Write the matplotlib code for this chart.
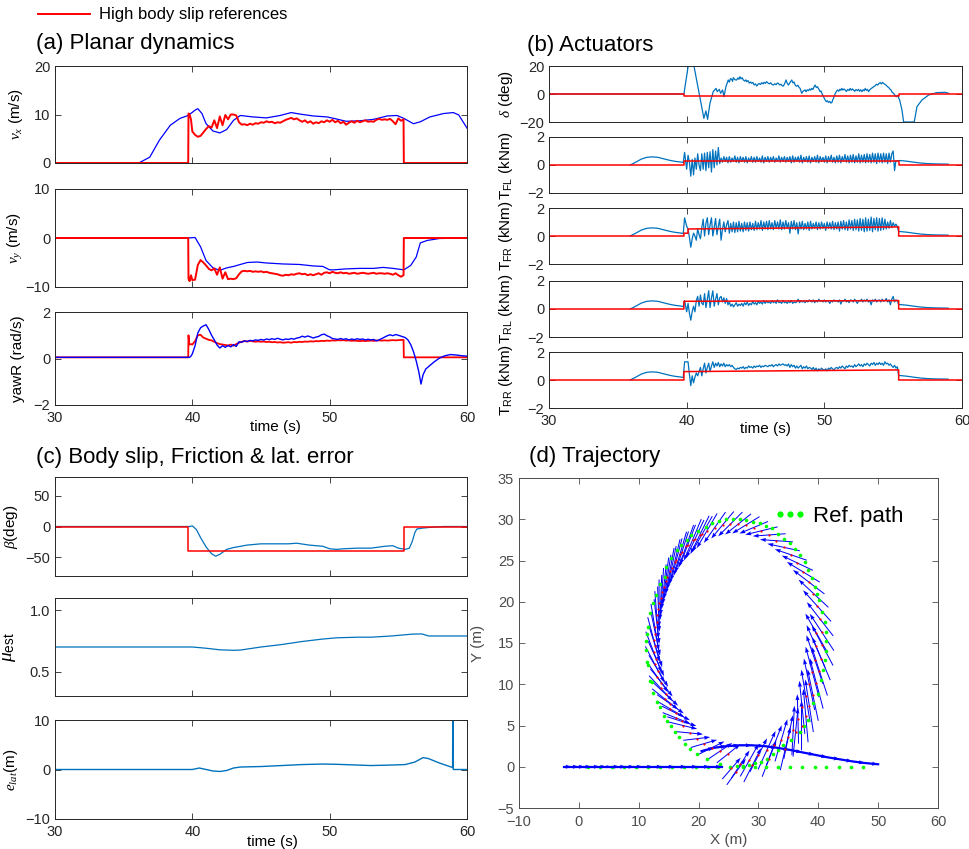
import numpy as np
import matplotlib
matplotlib.use("Agg")
import matplotlib.pyplot as plt
from matplotlib.lines import Line2D

plt.rcParams['font.family'] = ['Liberation Sans', 'DejaVu Sans']
plt.rcParams['mathtext.fontset'] = 'custom'
plt.rcParams['mathtext.rm'] = 'Liberation Sans'
plt.rcParams['mathtext.it'] = 'Liberation Serif:italic'
plt.rcParams['mathtext.bf'] = 'Liberation Sans:bold'

BLUE = '#0000FF'
MBLUE = '#0072BD'
RED = '#FF0000'
GREEN = '#00FF00'
INK = '#262626'

# ---------------------------------------------------------------- (a) planar dynamics
vx_t = [30, 36.1, 36.9, 37.6, 38.4, 39.1, 39.7, 40.2, 40.4, 40.7, 41.0, 41.5, 42.0, 42.5, 43.0,
        43.5, 44.4, 45.4, 46.4, 47.2, 47.8, 48.8, 49.8, 50.3, 51.2, 52.2, 53.2, 54.2, 54.9, 55.4,
        56.1, 56.6, 57.3, 58.3, 59.0, 59.4, 60.0]
vx = [0, 0, 1.2, 4.7, 7.8, 9.2, 9.8, 10.9, 11.2, 10.2, 8.1, 6.6, 6.2, 6.9, 8.8,
      9.8, 9.5, 9.3, 9.8, 10.4, 10.1, 9.7, 9.5, 9.2, 8.6, 8.7, 9.0, 9.7, 9.8, 9.2,
      8.1, 8.5, 9.5, 10.2, 10.4, 9.9, 7.2]

# references sampled every 0.2 s from 40.0 s
vx_ref_pre_t = [30, 39.7, 39.72, 39.8, 39.9]
vx_ref_pre = [0, 0, 10.2, 10.0, 9.0]
vx_ref = [6.5, 5.8, 5.4, 5.6, 6.3, 7.0, 7.6, 7.3, 8.8, 7.2,
          9.6, 7.8, 9.9, 9.0, 10.0, 10.0, 9.8, 8.4, 7.9, 8.0,
          7.8, 8.1, 7.9, 8.2, 8.1, 8.4, 8.3, 8.6, 8.4, 8.5,
          8.2, 8.4, 8.3, 8.6, 8.9, 9.1, 9.3, 9.0, 9.2, 8.8,
          8.5, 8.8, 8.3, 8.6, 8.1, 8.4, 8.2, 8.6, 8.4, 8.8,
          8.5, 8.9, 8.4, 8.7, 8.2, 8.5, 7.9, 8.3, 8.6, 8.3,
          8.7, 8.4, 8.6, 8.8, 8.5, 8.6, 8.5, 8.9, 9.1, 8.9,
          9.0, 8.9, 9.1, 8.6, 8.0, 9.2, 8.7]
vx_ref_post_t = [55.38, 55.4, 60]
vx_ref_post = [9.0, 0, 0]

vy_t = [30, 39.7, 40.2, 40.6, 41.0, 41.5, 42.0, 42.5, 43.0, 44.0, 44.7, 45.4, 46.6, 47.8, 48.8,
        49.5, 50.0, 50.3, 51.2, 52.2, 53.2, 53.9, 54.6, 55.4, 55.9, 56.3, 56.6, 57.1, 58.0, 60]
vy = [0, 0, 0.1, -1.8, -4.6, -6.1, -6.6, -6.1, -5.8, -5.0, -4.9, -5.1, -5.3, -5.4, -5.7,
      -5.8, -6.5, -6.5, -6.3, -6.2, -6.2, -6.0, -6.2, -6.5, -5.6, -3.9, -1.0, -0.5, -0.1, 0]

vy_ref_pre_t = [30, 39.7, 39.72, 39.8, 39.9]
vy_ref_pre = [0, 0, -8.3, -8.8, -7.6]
vy_ref = [-8.6, -8.5, -5.5, -4.5, -5.0, -5.6, -6.3, -6.6, -6.2, -7.5,
          -6.0, -8.3, -7.0, -8.4, -8.3, -8.4, -8.2, -7.4, -6.8, -6.7,
          -6.8, -6.7, -6.9, -6.8, -6.9, -6.8, -7.0, -6.9, -7.1, -7.2,
          -7.3, -7.4, -7.6, -7.7, -7.5, -7.6, -7.4, -7.5, -7.3, -7.2,
          -7.4, -7.3, -7.6, -7.4, -7.6, -7.4, -7.2, -7.5, -7.1, -7.0,
          -7.2, -6.9, -7.1, -7.2, -7.0, -7.2, -7.1, -7.3, -7.2, -7.1,
          -7.3, -7.2, -7.1, -7.2, -7.3, -7.2, -7.1, -7.3, -7.2, -7.2,
          -7.3, -7.2, -7.3, -7.5, -7.2, -7.6, -7.9]
vy_ref_post_t = [55.38, 55.4, 60]
vy_ref_post = [-7.6, 0, 0]

yaw_pre_t = [30, 39.8, 39.9]
yaw_pre = [0.05, 0.05, 0.1]
yaw = [0.2, 0.55, 1.1, 1.32, 1.4, 1.45, 1.25, 1.0, 0.8, 0.58,
       0.45, 0.55, 0.48, 0.56, 0.5, 0.6, 0.52, 0.72, 0.7, 0.76,
       0.73, 0.78, 0.76, 0.8, 0.78, 0.82, 0.79, 0.84, 0.81, 0.85,
       0.82, 0.87, 0.83, 0.8, 0.84, 0.82, 0.86, 0.83, 0.88, 0.9,
       0.96, 0.92, 0.97, 0.93, 0.88, 0.92, 0.95, 1.02, 1.05, 0.98,
       0.93, 0.86, 0.84, 0.82, 0.86, 0.82, 0.85, 0.8, 0.84, 0.81,
       0.85, 0.82, 0.84, 0.8, 0.83, 0.8, 0.82, 0.76, 0.8, 0.86,
       0.92, 0.98, 1.02, 0.98, 1.03, 1.0, 0.96]
yaw_post_t = [55.5, 55.7, 55.9, 56.1, 56.3, 56.5, 56.65, 56.8, 57.0, 57.3, 57.6, 58.0, 58.4,
              58.8, 59.2, 59.6, 60]
yaw_post = [0.9, 0.8, 0.6, 0.3, -0.1, -0.6, -1.1, -0.7, -0.45, -0.3, -0.15, 0.02, 0.12,
            0.17, 0.15, 0.12, 0.1]

yaw_ref_pre_t = [30, 39.7, 39.72, 39.78, 39.9]
yaw_ref_pre = [0.05, 0.05, 1.0, 0.6, 0.62]
yaw_ref = [0.6, 0.75, 1.0, 1.02, 0.9, 0.85, 0.8, 0.78, 0.72, 0.66,
           0.62, 0.6, 0.58, 0.56, 0.6, 0.55, 0.62, 0.68, 0.72, 0.75,
           0.73, 0.76, 0.74, 0.72, 0.74, 0.72, 0.73, 0.71, 0.72, 0.70,
           0.71, 0.69, 0.70, 0.68, 0.69, 0.70, 0.68, 0.71, 0.70, 0.72,
           0.71, 0.73, 0.72, 0.74, 0.73, 0.75, 0.74, 0.76, 0.75, 0.77,
           0.76, 0.78, 0.77, 0.79, 0.78, 0.79, 0.77, 0.78, 0.76, 0.77,
           0.76, 0.75, 0.76, 0.75, 0.76, 0.77, 0.76, 0.77, 0.78, 0.77,
           0.78, 0.77, 0.78, 0.79, 0.78, 0.79, 0.80]
yaw_ref_post_t = [55.38, 55.4, 60]
yaw_ref_post = [0.8, 0.05, 0.05]

# ---------------------------------------------------------------- (b) actuators
delta_t = [30, 39.80, 40.11, 40.53, 41.25, 41.40, 41.52, 41.69, 41.93, 42.13, 42.22, 42.37,
           42.47, 42.61, 42.71, 42.85,
           43.02, 43.10, 43.18, 43.27, 43.33, 43.39, 43.50, 43.63, 43.72, 43.80, 43.87, 43.95,
           44.03, 44.12, 44.22, 44.30, 44.36, 44.45, 44.55, 44.64, 44.72, 44.80, 44.90, 45.00,
           45.09, 45.18, 45.27, 45.36, 45.45, 45.55, 45.63, 45.72, 45.81, 45.90, 46.00, 46.10,
           46.20, 46.30, 46.40, 46.50, 46.58, 46.66, 46.75, 46.85, 46.94, 47.03, 47.12, 47.22,
           47.30, 47.39, 47.50, 47.63, 47.72, 47.80, 47.88, 47.98, 48.08, 48.16, 48.24, 48.30,
           48.36, 48.44, 48.52, 48.60, 48.68, 48.76, 48.85, 48.93, 49.00, 49.09, 49.17, 49.25,
           49.33, 49.42, 49.50, 49.60, 49.69, 49.76, 49.82, 49.92, 50.00, 50.06, 50.15, 50.22,
           50.30, 50.40, 50.47, 50.54, 50.62, 50.71, 50.80, 50.88, 50.96, 51.05, 51.13, 51.20,
           51.27, 51.35, 51.43, 51.51, 51.60, 51.70, 51.80, 51.88, 51.96, 52.04, 52.12, 52.20,
           52.30, 52.40, 52.48, 52.56, 52.64, 52.73, 52.82, 52.90, 52.97, 53.05, 53.13, 53.21,
           53.30, 53.40, 53.50, 53.58, 53.68, 53.78, 53.88, 53.97, 54.06, 54.14, 54.22, 54.30,
           54.40, 54.50, 54.59, 54.68, 54.76, 54.84, 54.93, 55.03, 55.12, 55.22, 55.32, 55.47,
           55.64, 55.76, 56.53, 56.73, 57.09, 57.58, 58.18, 58.79, 59.03]
delta = [0, 0, 20, 20, -17.4, -12.1, -18.1, -6.7, 1.7, 4.0, 1.7, 3.3,
         0.5, 2.9, -1.9, 5.2,
         10.0, 8.5, 11.0, 10.5, 9.0, 11.7, 10.2, 10.0, 11.5, 10.5, 12.4, 10.8,
         11.6, 10.0, 9.2, 10.1, 8.8, 9.6, 7.8, 8.6, 7.6, 8.3, 6.5, 7.2,
         5.7, 6.9, 7.5, 6.8, 8.1, 7.2, 8.4, 7.6, 8.8, 7.9, 7.2, 8.0,
         6.8, 6.4, 7.3, 6.6, 7.8, 7.6, 6.5, 7.0, 5.9, 5.7, 7.5, 10.0,
         7.8, 6.4, 8.0, 10.0, 7.9, 8.6, 6.4, 5.5, 6.2, 4.8, 4.0, 2.2,
         0.5, 1.8, 2.4, 2.9, 1.6, 3.0, 2.4, 3.6, 2.8, 4.0, 3.2, 5.1,
         6.4, 4.6, 5.2, 3.5, 1.7, 2.2, 0.5, -1.5, -3.0, -4.3, -5.5, -4.8,
         -6.0, -5.3, -6.4, -6.2, -4.0, -1.9, 0.5, 1.8, 2.9, 2.0, 3.4, 2.6,
         4.0, 2.8, 3.6, 2.9, 1.8, 3.3, 2.5, 4.0, 2.7, 3.6, 2.9, 1.9,
         3.2, 2.4, 3.3, 2.0, 3.0, 1.7, 3.1, 2.3, 4.0, 2.6, 3.3, 1.7,
         3.0, 3.9, 4.6, 5.2, 5.8, 6.9, 6.4, 7.5, 8.1, 7.2, 8.3, 7.6,
         6.9, 6.2, 5.2, 4.6, 3.5, 2.9, 1.2, 0.5, -0.8, -1.9, -1.0, -4.3,
         -11.4, -20, -20, -9.0, -4.3, -0.7, 1.0, 1.2, 0.5]
delta_ref_t = [30, 39.8, 39.8, 55.4, 55.4, 60]
delta_ref = [0, 0, -1.2, -1.2, 0, 0]

# wheel torques: launch bump, one sample per 0.1 s from 40.0 s, then coast-down
launch_t = [35.9, 36.3, 36.7, 37.1, 37.5, 37.9, 38.3, 38.7, 39.1, 39.5, 39.75]
launch_T = [0, 0.2, 0.42, 0.55, 0.58, 0.55, 0.45, 0.35, 0.27, 0.22, 0.18]
coast_t = [55.4, 55.5, 55.7, 56.0, 56.5, 57.0, 57.5, 58.0, 58.5, 59.0]
coast_T = [0.3, 0.32, 0.3, 0.27, 0.2, 0.14, 0.1, 0.08, 0.07, 0.06]

T_fl_kick = 0.9
T_fl = [-0.3, 0.7, 0.2, -0.8, 0.4, -0.7, 0.5, -0.3, 0.8, 0.0,
        -0.4, 0.8, -0.3, 0.85, -0.4, 0.9, -0.2, 0.95, -0.5, 1.1,
        -0.2, 1.0, 0.0, 1.25, 0.1, 0.5, 0.2, 0.6, 0.25, 0.55,
        0.15, 0.6, 0.2, 0.5, 0.25, 0.65, 0.2, 0.55, 0.15, 0.6,
        0.25, 0.55, 0.2, 0.6, 0.15, 0.5, 0.25, 0.6, 0.2, 0.55,
        0.2, 0.6, 0.25, 0.5, 0.2, 0.65, 0.15, 0.55, 0.25, 0.6,
        0.2, 0.55, 0.25, 0.6, 0.2, 0.5, 0.25, 0.65, 0.2, 0.55,
        0.25, 0.6, 0.2, 0.55, 0.25, 0.6, 0.15, 0.65, 0.2, 0.55,
        0.25, 0.6, 0.2, 0.7, 0.15, 0.55, 0.25, 0.6, 0.2, 0.65,
        0.15, 0.55, 0.25, 0.6, 0.2, 0.7, 0.15, 0.6, 0.25, 0.55,
        0.2, 0.65, 0.15, 0.6, 0.25, 0.7, 0.2, 0.55, 0.15, 0.65,
        0.2, 0.7, 0.15, 0.6, 0.25, 0.75, 0.2, 0.65, 0.15, 0.7,
        0.2, 0.75, 0.15, 0.65, 0.2, 0.8, 0.15, 0.7, 0.2, 0.75,
        0.15, 0.8, 0.2, 0.75, 0.15, 0.85, 0.2, 0.8, 0.1, 0.85,
        0.2, 0.8, 0.15, 0.85, 0.2, 0.8, 0.1, 0.85, 0.2, 0.8,
        1.0, -0.4, 0.3, 0.3]
T_fr_kick = 1.3
T_fr = [0.7, 0.5, -0.1, -0.8, -0.2, 0.2, 0.0, -0.3, 0.5, 0.1,
        -0.2, 0.6, 1.2, 0.0, 0.9, 1.3, 0.1, 0.8, 1.3, 0.0,
        0.6, 1.25, 0.1, 0.7, 1.2, -0.3, 0.5, 1.0, 0.3, 0.8,
        1.1, 0.2, 0.9, 0.3, 1.0, 0.25, 0.95, 0.3, 1.05, 0.35,
        0.9, 0.3, 1.0, 0.4, 0.95, 0.35, 1.0, 0.45, 0.9, 0.4,
        1.05, 0.45, 0.95, 0.5, 1.1, 0.4, 1.0, 0.5, 1.05, 0.45,
        1.1, 0.5, 0.95, 0.45, 1.1, 0.55, 1.0, 0.5, 1.15, 0.45,
        1.0, 0.5, 1.1, 0.55, 0.95, 0.2, 1.05, 0.5, 1.1, 0.45,
        0.95, 0.15, 1.0, 0.5, 1.05, 0.45, 0.9, 0.5, 1.0, 0.4,
        1.05, 0.5, 0.9, 0.55, 1.0, 0.45, 0.95, 0.5, 1.0, 0.55,
        0.9, 0.4, 1.0, 0.55, 0.95, 0.5, 1.05, 0.45, 0.95, 0.5,
        1.0, 0.35, 1.05, 0.5, 1.1, 0.45, 1.0, 0.4, 1.15, 0.5,
        1.1, 0.4, 1.2, 0.45, 1.15, 0.35, 1.25, 0.4, 1.2, 0.3,
        1.3, 0.35, 1.2, 0.4, 1.35, 0.3, 1.25, 0.45, 1.3, 0.35,
        1.25, 0.4, 1.3, 0.45, 1.2, 0.5, 1.0, 0.55, 1.1, 0.6,
        0.95, 0.7, 0.85, 0.7]
T_rl_kick = 0.6
T_rl = [-0.2, 0.4, -0.3, -0.8, -0.2, 0.2, -0.2, 0.6, 0.9, 0.2,
        1.0, 0.4, 0.3, 1.1, 0.1, 0.7, 1.3, 0.1, 0.8, 1.3,
        0.2, 0.7, 1.1, 0.3, 0.8, 0.9, 0.5, 0.8, 0.4, 0.75,
        0.3, 0.5, 0.2, 0.35, 0.15, 0.3, 0.45, 0.2, 0.35, 0.25,
        0.4, 0.2, 0.45, 0.3, 0.5, 0.25, 0.4, 0.3, 0.55, 0.35,
        0.45, 0.3, 0.55, 0.4, 0.5, 0.35, 0.6, 0.4, 0.55, 0.45,
        0.5, 0.4, 0.6, 0.45, 0.55, 0.4, 0.65, 0.45, 0.5, 0.4,
        0.6, 0.45, 0.5, 0.4, 0.55, 0.45, 0.6, 0.4, 0.5, 0.45,
        0.5, 0.7, 0.45, 0.6, 0.5, 0.55, 0.45, 0.6, 0.5, 0.65,
        0.55, 0.5, 0.65, 0.45, 0.6, 0.5, 0.7, 0.55, 0.6, 0.5,
        0.65, 0.5, 0.6, 0.55, 0.4, 0.6, 0.5, 0.65, 0.55, 0.6,
        0.5, 0.65, 0.35, 0.6, 0.55, 0.7, 0.5, 0.6, 0.45, 0.65,
        0.6, 0.5, 0.7, 0.55, 0.4, 0.6, 0.55, 0.7, 0.5, 0.65,
        0.55, 0.7, 0.5, 0.6, 0.3, 0.65, 0.55, 0.7, 0.5, 0.6,
        0.65, 0.5, 0.7, 0.55, 0.6, 0.75, 0.5, 0.65, 0.3, 0.7,
        0.9, 0.5, 0.65, 0.6]
T_rr_kick = 1.3
T_rr = [1.3, 1.3, 0.4, -0.4, 0.3, -0.2, 0.2, 0.5, 0.3, 0.6,
        0.9, 0.3, 0.8, 1.2, 0.5, 0.9, 1.2, 0.6, 1.0, 1.3,
        0.9, 1.2, 1.0, 1.25, 0.95, 1.15, 1.0, 1.2, 0.95, 1.1,
        1.0, 1.1, 0.95, 1.05, 0.9, 0.8, 0.75, 0.85, 0.8, 0.9,
        0.85, 0.95, 0.8, 0.9, 0.85, 1.0, 0.9, 0.95, 0.85, 1.0,
        0.9, 1.0, 0.95, 1.05, 0.9, 1.0, 0.95, 1.05, 1.0, 0.95,
        1.05, 1.0, 1.1, 0.95, 1.05, 1.1, 1.0, 1.15, 1.05, 1.1,
        1.15, 1.05, 1.1, 1.0, 1.15, 0.9, 1.1, 0.95, 1.05, 0.85,
        1.0, 0.85, 0.95, 1.05, 0.8, 0.95, 0.85, 1.0, 0.8, 0.9,
        0.85, 0.75, 0.9, 0.7, 0.85, 0.65, 0.8, 0.7, 0.85, 0.75,
        0.7, 0.8, 0.65, 0.85, 0.75, 0.9, 0.8, 0.7, 0.85, 0.9,
        0.8, 0.95, 0.85, 1.0, 0.9, 0.8, 1.0, 0.9, 1.05, 0.95,
        1.0, 0.9, 1.1, 0.95, 1.05, 1.15, 1.0, 1.1, 0.95, 1.15,
        1.05, 1.2, 1.1, 1.0, 1.2, 1.1, 1.25, 1.05, 1.2, 1.1,
        1.25, 1.1, 1.2, 1.05, 1.3, 1.15, 1.2, 1.05, 1.15, 1.0,
        0.9, 1.05, 0.85, 0.95]

T_fl_ref_t = [30, 39.8, 39.8, 55.4, 55.4, 60]
T_fl_ref = [0, 0, 0.27, 0.27, 0, 0]
T_fr_ref_t = [30, 39.8, 39.8, 40.1, 40.1, 55.4, 55.4, 60]
T_fr_ref = [0, 0, 0.2, 0.2, 0.5, 0.65, 0, 0]
T_rl_ref_t = [30, 39.8, 39.8, 55.4, 55.4, 60]
T_rl_ref = [0, 0, 0.55, 0.6, 0, 0]
T_rr_ref_t = [30, 39.8, 39.8, 55.4, 55.4, 60]
T_rr_ref = [0, 0, 0.6, 0.72, 0, 0]

# ---------------------------------------------------------------- (c) slip, friction, lateral error
beta_t = [30, 39.8, 40.0, 40.3, 40.6, 41.0, 41.4, 41.7, 42.0, 42.5, 43.0, 44.0, 45.0, 46.0, 47.0,
          47.6, 48.5, 49.5, 50.0, 50.5, 51.0, 52.0, 53.0, 54.0, 54.6, 55.0, 55.5, 55.8, 56.0,
          56.2, 56.35, 56.8, 57.5, 58.3, 60]
beta = [0, 0, 1, -5, -18, -33, -44, -48, -45, -37, -34, -30, -28, -28, -28,
        -27, -30, -32, -36, -37, -36, -35, -35, -32, -31, -35, -37, -35, -25,
        -10, -4, -2.5, -1, 0, 0]
beta_ref_t = [30, 39.7, 39.7, 55.4, 55.4, 60]
beta_ref = [0, 0, -40, -40, 0, 0]

mu_t = [30, 40, 41, 42, 43, 43.5, 45, 46.5, 48, 49.5, 50.5, 52, 53, 54.5, 56, 56.7, 57.2, 58, 60]
mu = [0.70, 0.70, 0.69, 0.677, 0.673, 0.675, 0.70, 0.72, 0.745, 0.765, 0.775, 0.78, 0.78,
      0.79, 0.805, 0.807, 0.79, 0.79, 0.79]

elat_t = [30, 40, 40.5, 41, 41.5, 42, 42.5, 43, 43.5, 45, 46.5, 48, 49.5, 50.5, 52, 53, 54.5,
          55.5, 56.2, 56.8, 57.2, 58, 58.95, 58.97, 59.0, 60]
elat = [0, 0, 0.3, 0.0, -0.3, -0.4, -0.2, 0.3, 0.5, 0.6, 0.8, 1.0, 1.1, 1.05, 0.9, 0.8, 0.9,
        1.0, 1.5, 2.4, 2.2, 1.3, 0.4, 14, 0, 0]

# ---------------------------------------------------------------- (d) trajectory
ref_x = [1.5, 3.5, 5.5, 7.5, 9.5, 11.5, 13.5, 15.5, 17.5, 19.5, 21.5,
         23.3, 25.2, 27.4, 29.5, 31.3, 33.3, 35.3, 37.3, 39.4, 41.3, 43.5, 45.5, 47.5,
         23.5, 21.4, 19.7, 18.6, 17.7, 16.7, 16.1, 15.4, 14.7, 14.2, 13.5, 13.0, 12.4, 12.2,
         11.9, 11.6, 11.4, 11.2, 11.3, 11.4, 11.5, 11.9, 12.4, 12.9, 13.5, 14.4, 14.6, 15.4,
         16.4, 17.1, 18.0, 18.8, 19.9, 21.3, 22.3, 23.4, 24.5, 25.7, 26.9, 28.0, 29.1, 30.2,
         31.2, 32.2, 33.3, 34.3, 35.2, 36.1, 36.9, 37.7, 38.3, 38.9, 39.4, 39.8, 40.2, 40.7,
         41.1, 41.3, 41.3, 41.3, 41.1, 40.8, 40.5, 39.9, 39.1, 38.3, 37.6, 36.9, 35.5, 34.1,
         33.2, 32.4, 31.4, 30.5, 29.5, 28.5, 27.4, 26.4]
ref_y = [0, 0, 0, 0, 0, 0, 0, 0, 0, 0, 0,
         0, 0, 0, 0, 0, 0, 0, 0, 0, 0, 0, 0, 0,
         0.3, 0.9, 1.6, 2.2, 2.8, 3.6, 4.25, 4.9, 5.5, 6.1, 7.3, 7.9, 8.9, 10.3,
         10.4, 12.3, 12.7, 14.1, 15.2, 16.1, 17.0, 18.6, 19.8, 20.8, 22.2, 23.0, 24.2, 25.3,
         26.3, 26.9, 27.5, 28.1, 28.6, 29.1, 29.5, 29.8, 30.0, 30.0, 30.0, 29.9, 29.7, 29.5,
         29.2, 29.0, 28.2, 27.6, 27.1, 26.4, 25.7, 24.8, 23.9, 22.9, 21.8, 21.0, 20.2, 18.8,
         17.5, 16.3, 15.2, 14.0, 12.9, 11.7, 10.5, 8.8, 7.7, 5.7, 4.9, 4.2, 3.2, 2.6,
         2.0, 1.5, 1.0, 0.6, 0.4, 0.2, 0.1, 0.05]

# straight launch run and exit run (consecutive positions)
run_in_x = [-2.5, -1.2, 0.0, 1.0, 2.1, 3.5, 4.6, 5.4, 6.8, 7.9, 9.3, 10.7, 12.4, 14.0, 16.0,
            18.0, 19.9, 21.9, 23.9]
run_in_y = [0] * 19
run_out_x = [20.5, 22.6, 24.7, 26.8, 28.9, 31.0, 33.1, 35.2, 37.3, 39.4, 41.5, 43.6, 45.7,
             47.8, 50.0]
run_out_y = [1.9, 2.3, 2.5, 2.6, 2.6, 2.5, 2.3, 2.05, 1.75, 1.45, 1.15, 0.9, 0.65, 0.45, 0.3]

# drifting loop, first lap: vehicle position, heading (deg) and arrow length (m)
loop_x = [25.5, 27.0, 28.5, 30.0, 31.4, 32.6, 33.8, 35.0, 36.2, 37.2, 37.9, 38.5, 39.1, 39.7,
          40.2, 40.5, 40.7, 40.6, 40.3, 39.8, 39.2, 38.4, 37.5, 36.5, 35.4, 34.2, 33.0, 31.8,
          30.5, 29.2, 27.9, 26.6, 25.3, 24.0, 22.7, 21.4, 20.2, 19.0, 17.9, 16.9, 16.0, 15.2,
          14.5, 13.9, 13.4, 13.0, 12.7, 12.5, 12.5, 12.7, 13.1, 13.7, 14.4, 15.3, 16.3, 17.4,
          18.5, 19.7, 20.9, 22.2, 23.6, 25.0]
loop_y = [-0.2, 0.3, 0.8, 1.4, 2.0, 2.6, 3.2, 3.6, 4.2, 5.0, 6.2, 7.4, 8.7, 10.1,
          11.6, 13.1, 14.7, 16.3, 17.9, 19.5, 21.0, 22.4, 23.6, 24.7, 25.7, 26.6, 27.4, 28.1,
          28.6, 29.0, 29.3, 29.4, 29.4, 29.3, 29.0, 28.6, 28.1, 27.5, 26.7, 25.8, 24.8, 23.7,
          22.5, 21.2, 19.8, 18.4, 16.9, 15.4, 13.9, 12.4, 10.9, 9.5, 8.2, 7.0, 5.9, 5.0,
          4.1, 3.4, 2.8, 2.3, 1.9, 1.6]
loop_heading = [40, 48, 52, 55, 58, 62, 68, 74, 82, 90, 97, 102, 106, 110,
                114, 120, 126, 132, 137, 141, 146, 151, 156, 161, 166, 171, 177, 183,
                190, 197, 204, 210, 216, 221, 226, 231, 236, 240, 244, 248, 252, 256,
                260, 265, 270, 276, 283, 290, 298, 306, 314, 322, 330, 337, 344, 350,
                356, 5, 12, 20, 26, 30]
loop_len = [4.0, 4.5, 5.0, 5.0, 5.5, 5.5, 5.5, 5.5, 6.0, 6.0, 6.5, 6.5, 6.5, 6.5,
            6.5, 6.0, 6.0, 6.0, 6.0, 6.0, 6.0, 6.0, 6.0, 5.5, 5.5, 5.5, 5.5, 5.5,
            5.5, 5.0, 5.0, 5.0, 5.0, 5.0, 5.2, 5.4, 5.6, 5.8, 5.8, 5.8, 5.8, 5.8,
            5.8, 5.8, 5.8, 5.8, 5.8, 5.8, 5.6, 5.4, 5.2, 5.0, 5.0, 5.0, 4.8, 4.8,
            4.5, 4.5, 4.5, 4.5, 4.5, 4.5]

# second lap over the flanks of the loop
loop2_x = [35.8, 36.6, 37.3, 37.9, 38.5, 39.0, 39.4, 39.6, 39.7,
           20.6, 19.4, 18.2, 17.2, 16.3, 15.5, 14.8, 14.2, 13.7, 13.3, 13.0, 12.8, 12.8,
           12.9, 13.3, 13.8, 14.5, 15.3, 16.2, 17.2,
           26.3, 29.0, 31.8, 34.5]
loop2_y = [4.4, 5.8, 7.2, 8.6, 10.0, 11.5, 13.0, 14.6, 16.2,
           28.2, 27.6, 26.9, 26.0, 25.1, 24.1, 23.0, 21.8, 20.5, 19.1, 17.6, 16.1, 14.6,
           13.1, 11.6, 10.2, 8.8, 7.6, 6.5, 5.5,
           -0.6, 0.2, 1.0, 2.2]
loop2_heading = [86, 92, 98, 103, 106, 110, 115, 121, 128,
                 232, 237, 242, 246, 250, 254, 258, 262, 267, 273, 279, 286, 294,
                 302, 310, 318, 326, 333, 340, 347,
                 45, 55, 62, 72]
loop2_len = [6.0, 6.0, 6.5, 6.5, 6.5, 6.5, 6.5, 6.0, 6.0,
             5.5, 5.5, 5.5, 5.5, 5.5, 5.5, 5.5, 5.5, 5.5, 5.5, 5.5, 5.5, 5.5,
             5.0, 5.0, 5.0, 5.0, 5.0, 5.0, 5.0,
             4.5, 5.0, 5.0, 5.5]


def on_grid(start, step, vals):
    return start + step * np.arange(len(vals))


def series(parts):
    ts = np.concatenate([np.asarray(p[0], float) for p in parts])
    vs = np.concatenate([np.asarray(p[1], float) for p in parts])
    return ts, vs


def rect(l, t, r, b):
    return [l / 970, 1 - b / 849, (r - l) / 970, (b - t) / 849]


def style(ax, ylim, yticks, show_x=False, xlim=(30, 60), xticks=(30, 40, 50, 60),
          ink=INK, frame=INK):
    ax.set_xlim(*xlim)
    ax.set_ylim(*ylim)
    ax.set_xticks(list(xticks))
    ax.set_yticks(list(yticks))
    ax.tick_params(direction='in', top=True, right=True, length=4, width=0.6,
                   labelsize=10.5, colors=ink)
    ax.tick_params(axis='y', pad=3.5)
    ax.tick_params(axis='x', pad=4)
    for s in ax.spines.values():
        s.set_color(frame)
        s.set_linewidth(0.7)
    if not show_x:
        ax.tick_params(labelbottom=False)


W, H = 970, 849
fig = plt.figure(figsize=(W / 100, H / 100), dpi=100)

# legend line at the top
fig.add_artist(Line2D([38 / W, 90 / W], [1 - 14 / H, 1 - 14 / H], color=RED, lw=1.4))
fig.text(99 / W, 1 - 14 / H, 'High body slip references', fontsize=12, va='center', ha='left')

title_kw = dict(fontsize=16, va='center', ha='left')
fig.text(36 / W, 1 - 43 / H, '(a) Planar dynamics', **title_kw)
fig.text(527 / W, 1 - 45 / H, '(b) Actuators', **title_kw)
fig.text(36 / W, 1 - 458 / H, '(c) Body slip, Friction & lat. error', **title_kw)
fig.text(529 / W, 1 - 456 / H, '(d) Trajectory', **title_kw)

ylab_kw = dict(fontsize=11)

# ---- (a)
ax = fig.add_axes(rect(55, 66, 467, 163))
ax.plot(vx_t, vx, color=BLUE, lw=0.9)
t, v = series([(vx_ref_pre_t, vx_ref_pre), (on_grid(40.0, 0.2, vx_ref), vx_ref),
               (vx_ref_post_t, vx_ref_post)])
ax.plot(t, v, color=RED, lw=1.4)
style(ax, (0, 20), (0, 10, 20))
ax.set_ylabel(r'$v_x$ (m/s)', **ylab_kw)
ax.yaxis.set_label_coords(-0.073, 0.5)

ax = fig.add_axes(rect(55, 189, 467, 287))
ax.plot(vy_t, vy, color=BLUE, lw=0.9)
t, v = series([(vy_ref_pre_t, vy_ref_pre), (on_grid(40.0, 0.2, vy_ref), vy_ref),
               (vy_ref_post_t, vy_ref_post)])
ax.plot(t, v, color=RED, lw=1.4)
style(ax, (-10, 10), (-10, 0, 10))
ax.set_ylabel(r'$v_y$ (m/s)', **ylab_kw)
ax.yaxis.set_label_coords(-0.073, 0.5)

ax = fig.add_axes(rect(55, 312, 467, 405))
t, v = series([(yaw_ref_pre_t, yaw_ref_pre), (on_grid(40.0, 0.2, yaw_ref), yaw_ref),
               (yaw_ref_post_t, yaw_ref_post)])
ax.plot(t, v, color=RED, lw=1.3)
t, v = series([(yaw_pre_t, yaw_pre), (on_grid(40.0, 0.2, yaw), yaw), (yaw_post_t, yaw_post)])
ax.plot(t, v, color=BLUE, lw=1.0)
style(ax, (-2, 2), (-2, 0, 2), show_x=True)
ax.set_ylabel('yawR (rad/s)', **ylab_kw)
ax.yaxis.set_label_coords(-0.073, 0.5)
ax.set_xlabel('time (s)', fontsize=11)
ax.xaxis.set_label_coords(0.534, -0.16)

# ---- (b)
bx_l, bx_r = 549, 962
ax = fig.add_axes(rect(bx_l, 66, bx_r, 122))
ax.plot(delta_t, delta, color=MBLUE, lw=0.9)
ax.plot(delta_ref_t, delta_ref, color=RED, lw=1.1)
style(ax, (-20, 20), (-20, 0, 20))
ax.set_ylabel(r'$\delta$ (deg)', **ylab_kw)
ax.yaxis.set_label_coords(-0.082, 0.5)

torque_rows = [
    (137, 193, T_fl_kick, T_fl, T_fl_ref_t, T_fl_ref, r'T$_{\rm FL}$ (kNm)', False),
    (208, 264, T_fr_kick, T_fr, T_fr_ref_t, T_fr_ref, r'T$_{\rm FR}$ (kNm)', False),
    (281, 337, T_rl_kick, T_rl, T_rl_ref_t, T_rl_ref, r'T$_{\rm RL}$ (kNm)', False),
    (352, 408, T_rr_kick, T_rr, T_rr_ref_t, T_rr_ref, r'T$_{\rm RR}$ (kNm)', True),
]
for top, bot, kick, vals, rt, rv, lab, last in torque_rows:
    ax = fig.add_axes(rect(bx_l, top, bx_r, bot))
    t, v = series([(launch_t, launch_T), ([39.85], [kick]), (on_grid(40.0, 0.1, vals), vals),
                   (coast_t, coast_T)])
    ax.plot(t, v, color=MBLUE, lw=0.9)
    ax.plot(rt, rv, color=RED, lw=1.1)
    style(ax, (-2, 2), (-2, 0, 2), show_x=last)
    ax.set_ylabel(lab, **ylab_kw)
    ax.yaxis.set_label_coords(-0.082, 0.5)
    if last:
        ax.set_xlabel('time (s)', fontsize=11)
        ax.xaxis.set_label_coords(0.523, -0.25)

# ---- (c)
ax = fig.add_axes(rect(55, 477, 467, 576))
ax.plot(beta_t, beta, color=MBLUE, lw=0.9)
ax.plot(beta_ref_t, beta_ref, color=RED, lw=1.1)
style(ax, (-80, 80), (-50, 0, 50))
ax.set_ylabel(r'$\beta$(deg)', **ylab_kw)
ax.yaxis.set_label_coords(-0.085, 0.5)

ax = fig.add_axes(rect(55, 598, 467, 696))
ax.plot(mu_t, mu, color=MBLUE, lw=0.9)
style(ax, (0.3, 1.1), (0.5, 1.0))
ax.set_yticklabels(['0.5', '1.0'])
ax.set_ylabel(r'$\mu_{\rm est}$', fontsize=14)
ax.yaxis.set_label_coords(-0.09, 0.5)

ax = fig.add_axes(rect(55, 720, 467, 819))
ax.plot(elat_t, elat, color=MBLUE, lw=1.0)
style(ax, (-10, 10), (-10, 0, 10), show_x=True)
ax.set_ylabel(r'$e_{lat}$(m)', **ylab_kw)
ax.yaxis.set_label_coords(-0.085, 0.5)
ax.set_xlabel('time (s)', fontsize=11)
ax.xaxis.set_label_coords(0.527, -0.16)

# ---- (d)
ax = fig.add_axes(rect(519, 478, 938, 808))
ax.plot(ref_x, ref_y, ls='none', marker='o', ms=2.6, mec='none', color=GREEN)

qkw = dict(angles='xy', scale_units='xy', scale=1, color=BLUE, width=0.0024,
           headwidth=4, headlength=6, headaxislength=5.5)
for px, py in ((run_in_x, run_in_y), (run_out_x, run_out_y)):
    px = np.asarray(px, float)
    py = np.asarray(py, float)
    ax.plot(px, py, color=BLUE, lw=1.6)
    ax.quiver(px[:-1], py[:-1], np.diff(px), np.diff(py), pivot='tail', **qkw)

for lx, ly, lh, ll in ((loop_x, loop_y, loop_heading, loop_len),
                       (loop2_x, loop2_y, loop2_heading, loop2_len)):
    hd = np.deg2rad(lh)
    L = np.asarray(ll, float)
    ax.quiver(lx, ly, L * np.cos(hd), L * np.sin(hd), pivot='mid', **qkw)
    ax.plot(lx, ly, ls='none', marker='o', ms=1.6, mec='none', color=RED)

style(ax, (-5, 35), range(-5, 36, 5), show_x=True, xlim=(-10, 60),
      xticks=range(-10, 61, 10), ink='#4d4d4d', frame='#4d4d4d')
ax.tick_params(axis='x', pad=5)
ax.set_xlabel('X (m)', fontsize=11, color='#4d4d4d')
ax.set_ylabel('Y (m)', fontsize=11, color='#4d4d4d')
ax.xaxis.set_label_coords(0.5, -0.075)
ax.yaxis.set_label_coords(-0.08, 0.5)
ax.legend(handles=[Line2D([], [], ls='none', marker='o', ms=4.5, mec='none', color=GREEN)],
          labels=['Ref. path'], loc='upper right', bbox_to_anchor=(0.965, 0.975),
          frameon=False, numpoints=3, fontsize=16, handlelength=1.5, handletextpad=0.3)

fig.savefig('out.png', dpi=100)
